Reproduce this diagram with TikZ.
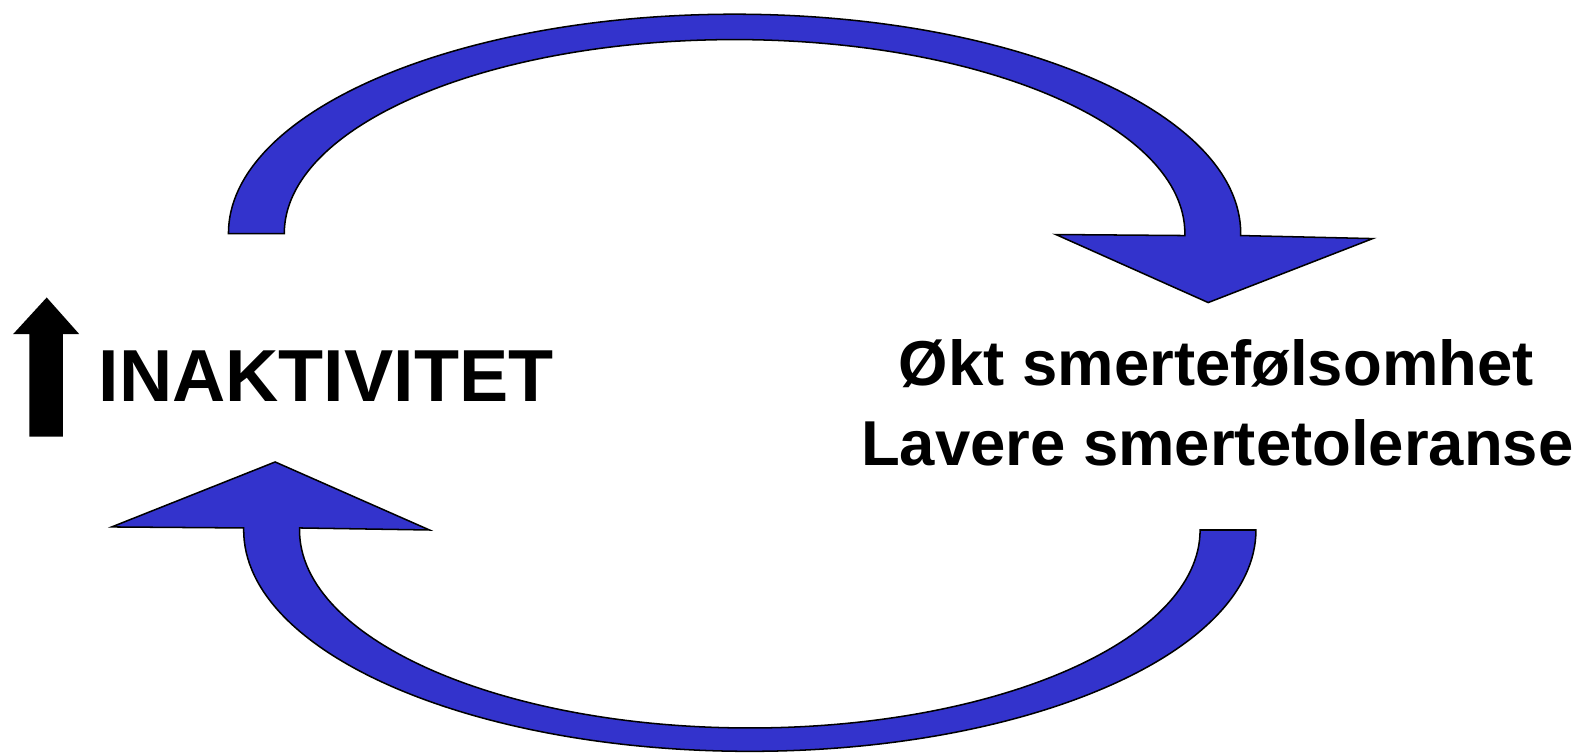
\documentclass[tikz,border=0pt]{standalone}
\usepackage{fontspec}
\setmainfont{Liberation Sans}
\definecolor{arrowblue}{HTML}{3333CC}
\begin{document}
\begin{tikzpicture}[x=1pt,y=1pt,
  bluearrow/.style={fill=arrowblue,draw=black,line width=1.5pt,line join=miter},
  bigtext/.style={inner sep=0pt,font=\fontsize{72.6}{80}\selectfont\bfseries},
  sidetext/.style={inner sep=0pt,font=\fontsize{62.5}{78}\selectfont\bfseries}]
\useasboundingbox (0,0) rectangle (1568,742);
% top curved arrow
\path[bluearrow] (225,512) arc[start angle=180,end angle=0,x radius=498.5,y radius=216]
  -- (1222,510) -- (1352,507) -- (1190,444) -- (1040,511) -- (1167,510) -- (1167,512)
  arc[start angle=0,end angle=180,x radius=443.5,y radius=191] -- cycle;
% bottom curved arrow
\path[bluearrow] (1237,220) arc[start angle=0,end angle=-180,x radius=498.5,y radius=218]
  -- (240,222) -- (110,223) -- (271,287) -- (423,220) -- (295,222) -- (295,220)
  arc[start angle=180,end angle=360,x radius=443.5,y radius=195] -- cycle;
% black up arrow
\fill[black] (29,312) -- (62,312) -- (62,413) -- (78,413) -- (46,449) -- (13,413) -- (29,413) -- cycle;
\node[bigtext,anchor=base west] (inakt) at (97,347) {INAKTIVITET};
\node[sidetext,anchor=base] (line1) at (1198,362) {Økt smertefølsomhet};
\node[sidetext,anchor=base] (line2) at (1199,284) {Lavere smertetoleranse};
\end{tikzpicture}
\end{document}
